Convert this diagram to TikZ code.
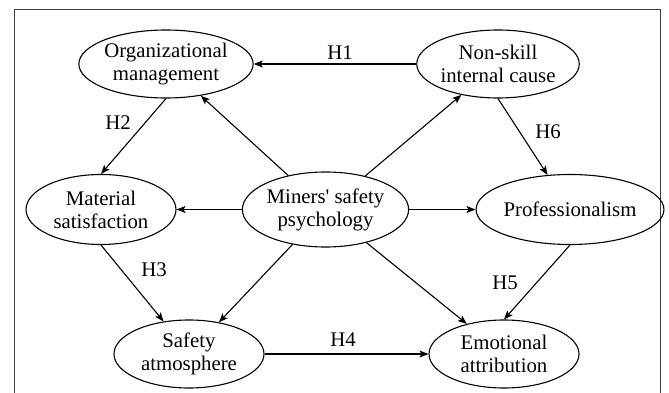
\documentclass[tikz,border=0pt]{standalone}
\usepackage{fontspec}
\setmainfont{Liberation Serif}
\usetikzlibrary{arrows.meta, shapes.geometric}
\tikzset{
  varnode/.style={
    ellipse, draw=black, line width=1.1pt, inner sep=0pt,
    minimum width=#1, minimum height=68pt,
    align=center, font=\fontsize{20.8}{23}\selectfont
  },
  patharrow/.style={-{Stealth[length=9pt,width=7pt,inset=2pt]}, line width=1.1pt},
  hlabel/.style={inner sep=0pt, font=\fontsize{20.8}{23}\selectfont},
  framebox/.style={draw=black!75, line width=1pt},
}

\begin{document}
\begin{tikzpicture}[x=1pt,y=1pt]
    \useasboundingbox (0,0) rectangle (669,-393);
    \draw[framebox] (14,-393) |- (660,-10) -- (660,-393);
    % variables
    \node[varnode=170pt] (org)  at (166,-64)  {Organizational\\management};
    \node[varnode=150pt] (ns)   at (498,-64)  {Non-skill\\internal cause};
    \node[varnode=150pt,minimum height=70pt] (mat) at (101,-209.5) {Material\\satisfaction};
    \node[varnode=164pt,minimum height=75pt] (mps) at (325.5,-209.5) {Miners\textquotesingle{} safety\\psychology};
    \node[varnode=170pt,minimum height=70pt] (prof) at (570,-209.5) {Professionalism};
    \node[varnode=150pt] (saf)  at (189,-354)  {Safety\\atmosphere};
    \node[varnode=150pt] (emo)  at (504,-354)  {Emotional\\attribution};
    % paths
    \draw[patharrow] (ns) -- (org);
    \draw[patharrow] (org.south) -- (mat.north);
    \draw[patharrow] (mps) -- (org);
    \draw[patharrow] (mps) -- (ns);
    \draw[patharrow] (mps) -- (mat);
    \draw[patharrow] (mps) -- (prof);
    \draw[patharrow] (ns.south) -- (prof.123);
    \draw[patharrow] (mat.south) -- (saf.128);
    \draw[patharrow] (mps) -- (saf);
    \draw[patharrow] (mps) -- (emo);
    \draw[patharrow] (prof.south) -- (emo.north);
    \draw[patharrow] (saf) -- (emo);
    % hypotheses
    \node[hlabel] (h1) at (340,-52.5) {H1};
    \node[hlabel] (h2) at (118,-123)  {H2};
    \node[hlabel] (h3) at (154,-270)  {H3};
    \node[hlabel] (h4) at (343,-340)  {H4};
    \node[hlabel] (h5) at (505,-283)  {H5};
    \node[hlabel] (h6) at (548,-132)  {H6};
\end{tikzpicture}
\end{document}
